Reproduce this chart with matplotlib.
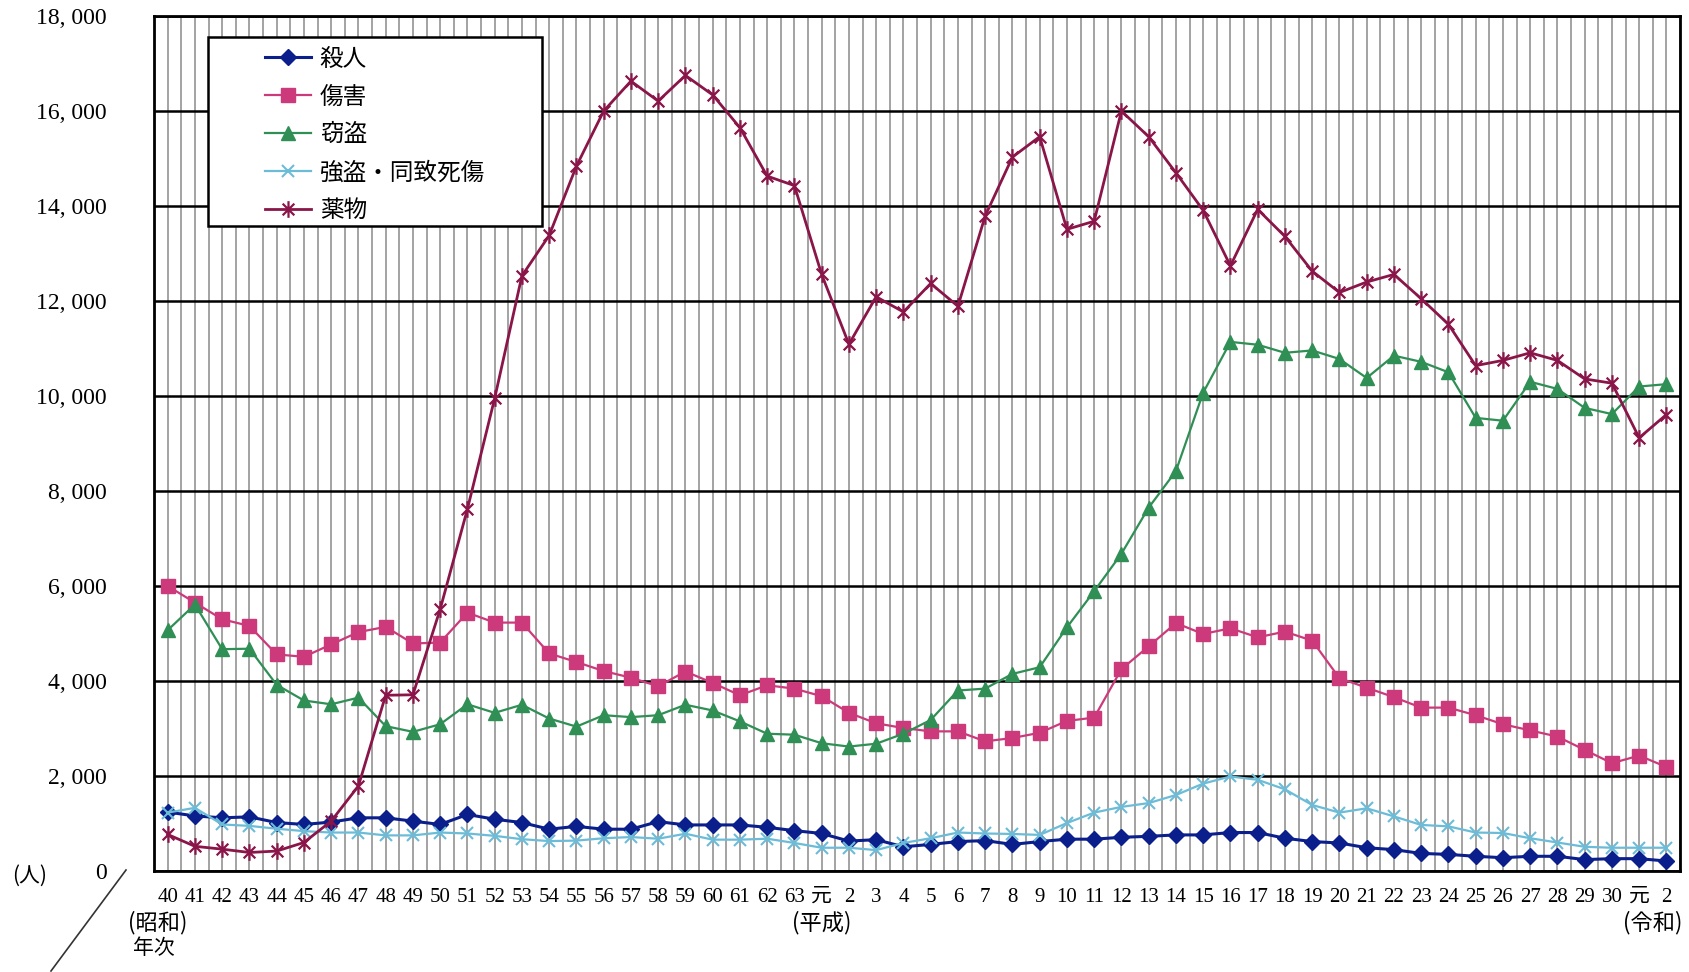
import numpy as np
import matplotlib
matplotlib.use("Agg")
import matplotlib.pyplot as plt
from matplotlib.path import Path
from matplotlib.patches import Rectangle
from matplotlib.lines import Line2D
import matplotlib.transforms as mtransforms

plt.rcParams['font.family'] = ['Liberation Serif', 'Noto Sans CJK JP', 'DejaVu Sans']

# 年次ラベル (昭和40年 〜 令和2年)
showa = [str(i) for i in range(40, 64)]
heisei = ['元'] + [str(i) for i in range(2, 31)]
reiwa = ['元', '2']
year_labels = showa + heisei + reiwa

satsujin = [1240, 1160, 1120, 1140, 1020, 980, 1030, 1120, 1120, 1050,
            980, 1190, 1090, 1020, 880, 940, 880, 880, 1040, 970,
            970, 970, 920, 850,
            790, 630, 660, 510, 560, 620, 640, 560, 620, 670,
            670, 710, 730, 760, 760, 810, 810, 690, 620, 590,
            490, 450, 370, 350, 310, 280, 310, 310, 240, 260,
            260, 210]
shougai = [6000, 5650, 5300, 5160, 4560, 4510, 4770, 5030, 5140, 4790,
           4810, 5440, 5230, 5230, 4580, 4400, 4210, 4070, 3890, 4200,
           3960, 3700, 3910, 3840,
           3680, 3330, 3110, 3010, 2940, 2940, 2730, 2800, 2910, 3160,
           3230, 4250, 4730, 5220, 4990, 5110, 4920, 5040, 4850, 4060,
           3860, 3660, 3440, 3440, 3280, 3090, 2960, 2830, 2550, 2270,
           2430, 2190]
settou = [5070, 5610, 4670, 4680, 3920, 3590, 3510, 3650, 3050, 2930,
          3090, 3510, 3330, 3500, 3210, 3040, 3280, 3240, 3280, 3500,
          3380, 3150, 2890, 2870,
          2690, 2620, 2680, 2890, 3180, 3800, 3840, 4150, 4290, 5130,
          5890, 6680, 7650, 8420, 10070, 11140, 11080, 10910, 10960, 10780,
          10380, 10850, 10720, 10500, 9540, 9480, 10300, 10150, 9750, 9620,
          10200, 10250]
goutou = [1230, 1330, 980, 950, 890, 840, 810, 810, 750, 750,
          810, 790, 740, 670, 630, 640, 690, 715, 680, 785,
          660, 660, 680, 590,
          490, 490, 440, 590, 690, 810, 790, 780, 760, 1010,
          1230, 1350, 1430, 1600, 1840, 1990, 1920, 1720, 1390, 1230,
          1320, 1150, 970, 940, 810, 800, 690, 600, 510, 490,
          490, 490]
yakubutsu = [770, 520, 460, 390, 420, 600, 1050, 1790, 3700, 3710,
             5510, 7620, 9950, 12530, 13380, 14840, 16000, 16630, 16210, 16750,
             16340, 15650, 14630, 14430,
             12560, 11090, 12090, 11770, 12370, 11890, 13790, 15030, 15460, 13510,
             13680, 16000, 15460, 14700, 13910, 12740, 13930, 13360, 12630, 12180,
             12400, 12560, 12050, 11510, 10640, 10750, 10910, 10750, 10360, 10270,
             9120, 9610]

y_ticks = list(range(0, 18001, 2000))

# エクセル風の星マーカー (× + 縦線)
star = Path([(-0.7, -0.7), (0.7, 0.7), (-0.7, 0.7), (0.7, -0.7), (0, -1), (0, 1)],
            [Path.MOVETO, Path.LINETO, Path.MOVETO, Path.LINETO, Path.MOVETO, Path.LINETO])

fig = plt.figure(figsize=(16.89, 9.72), dpi=100)
ax = fig.add_axes([0.0912, 0.1039, 0.9035, 0.8796])

x = np.arange(len(year_labels))

series = [
    ("殺人", satsujin, dict(color="#0b1f8c", marker="D", markersize=8, lw=2.2)),
    ("傷害", shougai, dict(color="#cc3a7c", marker="s", markersize=10, lw=1.6)),
    ("窃盗", settou, dict(color="#2f8f55", marker="^", markersize=10, lw=1.6)),
    ("強盗・同致死傷", goutou, dict(color="#6cbcd8", marker="x", markersize=9, mew=1.5, lw=1.6)),
    ("薬物", yakubutsu, dict(color="#8a1549", marker=star, markersize=12, mew=1.6, lw=2.0)),
]
handles = []
for name, vals, kw in series:
    h, = ax.plot(x, vals, label=name, zorder=3, **kw)
    handles.append(h)

ax.set_xlim(-0.5, len(year_labels) - 0.5)
ax.set_ylim(0, 18000)

ax.set_xticks(x)
ax.set_xticklabels(year_labels, fontsize=15)
ax.set_xticks(np.arange(-0.5, len(year_labels), 1), minor=True)
ax.set_yticks(y_ticks)
ax.set_yticklabels([f"{v:,}".replace(",", ", ") for v in y_ticks], fontsize=17)
ax.tick_params(axis="both", which="both", length=0)
ax.tick_params(axis="x", pad=12)
ax.tick_params(axis="y", pad=34)

ax.set_axisbelow(True)
ax.grid(axis="x", which="both", color="#8a8a8a", lw=1.1)
ax.grid(axis="y", which="major", color="black", lw=1.8)
for sp in ax.spines.values():
    sp.set_linewidth(2)
    sp.set_color("black")

# 凡例 (枠は別に描く)
ax.add_patch(Rectangle((0.0354, 0.754), 0.219, 0.221, transform=ax.transAxes,
                       facecolor="white", edgecolor="black", lw=1.8, zorder=4))
leg = ax.legend(handles=handles, loc="upper left", bbox_to_anchor=(0.073, 0.963),
                frameon=False, handlelength=1.95, handletextpad=0.35,
                labelspacing=0.63, borderaxespad=0, borderpad=0,
                prop={"family": ["Noto Sans CJK JP"], "size": 17})
leg.set_zorder(5)

# 元号・単位の注記
trans = mtransforms.blended_transform_factory(ax.transData, fig.transFigure)
ax.text(-0.35, 1 - 923 / 972, "(昭和)", transform=trans, ha="center", va="center",
        fontsize=16, family=["Noto Sans CJK JP"])
ax.text(-0.5, 1 - 948 / 972, "年次", transform=trans, ha="center", va="center",
        fontsize=15, family=["Noto Sans CJK JP"])
ax.text(24, 1 - 923 / 972, "(平成)", transform=trans, ha="center", va="center",
        fontsize=16, family=["Noto Sans CJK JP"])
ax.text(len(year_labels) - 0.4, 1 - 923 / 972, "(令和)", transform=trans, ha="right", va="center",
        fontsize=16, family=["Noto Sans CJK JP"])
fig.text(30 / 1689, 1 - 876 / 972, "(人)", ha="center", va="center",
         fontsize=15, family=["Noto Sans CJK JP"])
fig.add_artist(Line2D([126 / 1689, 51 / 1689], [1 - 870 / 972, 1 - 971 / 972],
                      transform=fig.transFigure, color="#333333", lw=1.2))

fig.savefig("out.png", dpi=100)
